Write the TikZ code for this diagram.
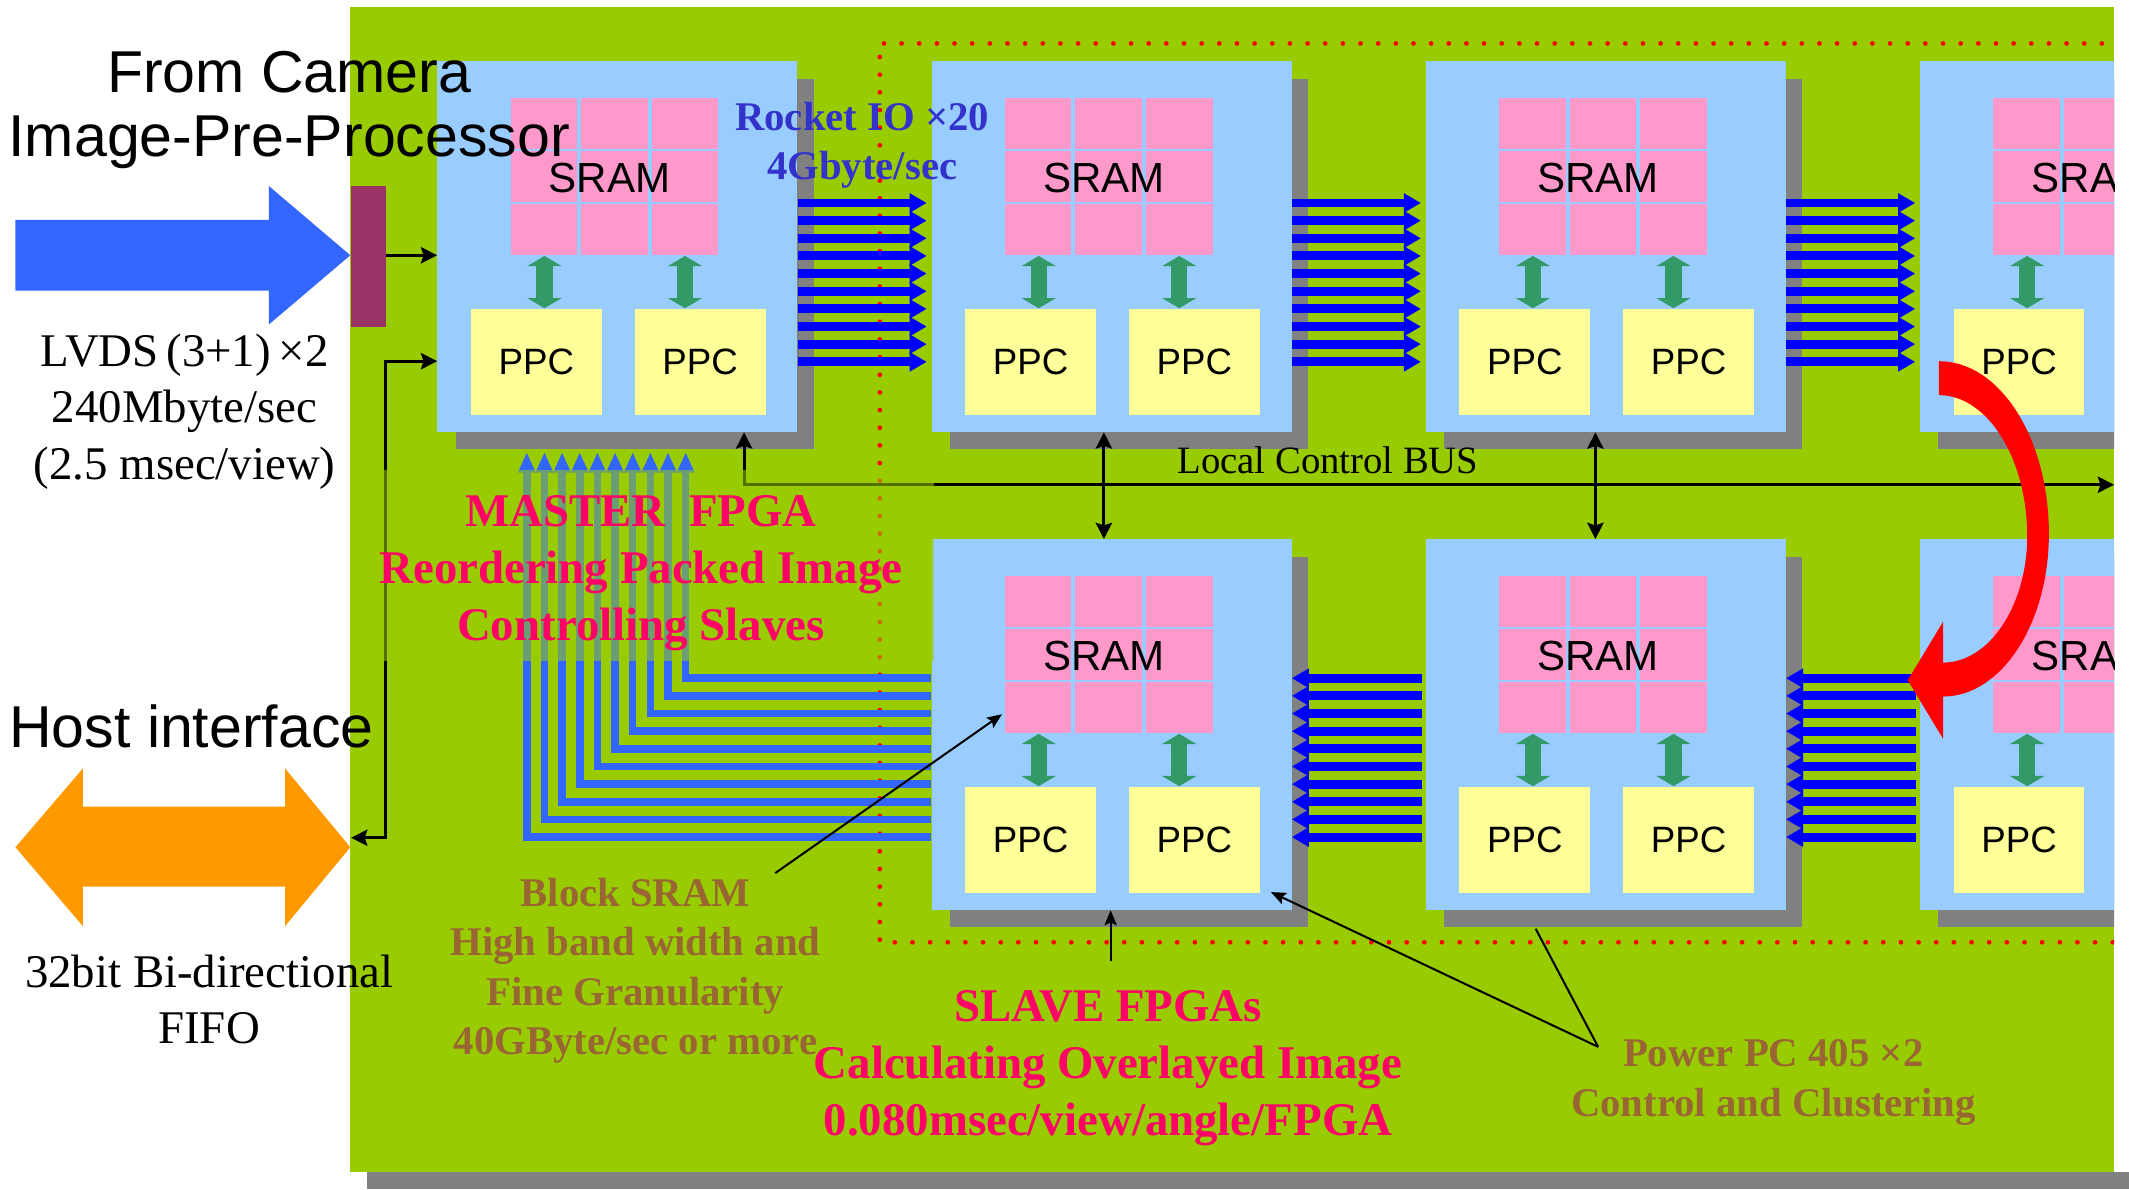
\documentclass[tikz,border=0pt]{standalone}
\usepackage{fontspec}
\setmainfont{Liberation Serif}
\setsansfont{Liberation Sans}
\usetikzlibrary{arrows.meta,calc}

\definecolor{panelgreen}{RGB}{153,204,0}
\definecolor{fpgablue}{RGB}{153,204,255}
\definecolor{shadowgray}{RGB}{128,128,128}
\definecolor{srampink}{RGB}{255,153,204}
\definecolor{ppcyellow}{RGB}{255,255,153}
\definecolor{portgreen}{RGB}{51,153,102}
\definecolor{rocketblue}{RGB}{0,0,255}
\definecolor{feedblue}{RGB}{51,102,255}
\definecolor{hotpink}{RGB}{255,0,102}
\definecolor{notebrown}{RGB}{153,102,51}
\definecolor{iotextblue}{RGB}{51,51,204}
\definecolor{hostorange}{RGB}{255,153,0}
\definecolor{portmaroon}{RGB}{153,51,102}

% one FPGA: name, left, top
\newcommand{\fpgablock}[3]{%
  \fill[shadowgray] (#2+13.5,#3+13) rectangle ++(264,273);
  \node[fpga] (#1) at (#2,#3) {};
  \foreach \c in {0,1,2}
    \foreach \r in {0,1,2}
      \fill[srampink] (#2+54+52*\c,#3+27+39*\r) rectangle ++(49,37.5);
  \node[sramlabel] (#1-sram) at (#2+127,#3+86) {SRAM};
  \node[ppc] (#1-ppcA) at (#2+24.7,#3+182.6) {PPC};
  \node[ppc] (#1-ppcB) at (#2+145.3,#3+182.6) {PPC};
  \draw[duplex] (#2+79,#3+143.5) -- (#2+79,#3+182);
  \draw[duplex] (#2+182.5,#3+143.5) -- (#2+182.5,#3+182);
}

\begin{document}
\begin{tikzpicture}[x=1pt, y=-1pt, >={Stealth[length=12pt,width=12pt,inset=2pt]},
    fpga/.style={rectangle, fill=fpgablue, anchor=north west, inner sep=0pt, minimum width=265pt, minimum height=273pt},
    ppc/.style={rectangle, fill=ppcyellow, anchor=north west, inner sep=0pt, minimum width=96.3pt, minimum height=78pt, font=\sffamily\fontsize{27}{32}\selectfont},
    sramlabel/.style={inner sep=0pt, font=\sffamily\fontsize{31}{36}\selectfont},
    duplex/.style={draw=portgreen, line width=12pt, {Triangle[width=25pt,length=7.5pt]}-{Triangle[width=25pt,length=7.5pt]}},
    rocket/.style={draw=rocketblue, line width=6.6pt, -{Triangle[length=12.5pt,width=13.5pt]}},
    feed/.style={draw=feedblue, line width=5.5pt, line join=miter, -{Triangle[length=15pt,width=12pt]}},
    link/.style={draw=black, line width=2.2pt},
    lead/.style={draw=black, line width=1.5pt, >={Stealth[length=11pt,width=9pt,inset=2pt]}},
    camtext/.style={align=center, inner sep=0pt, font=\sffamily\fontsize{43.5}{47}\selectfont},
    ratetext/.style={align=center, inner sep=0pt, font=\fontsize{34.5}{41.5}\selectfont},
    hottext/.style={align=center, inner sep=0pt, text=hotpink, font=\bfseries\fontsize{34.5}{42}\selectfont},
    notetext/.style={align=center, inner sep=0pt, text=notebrown, font=\bfseries\fontsize{30}{36.5}\selectfont},
    iotext/.style={align=center, inner sep=0pt, text=iotextblue, font=\bfseries\fontsize{30}{36}\selectfont}]

\useasboundingbox (0,0) rectangle (1568,876);
\fill[white] (0,0) rectangle (1568,876);
\fill[shadowgray] (270,863.5) rectangle (1568,876);

\begin{scope}
\clip (0,0) rectangle (1557,876);
\fill[panelgreen] (258,5.4) rectangle (1557,863.5);

% slave area
\draw[red, line width=3.5pt, line cap=round, dash pattern=on 0pt off 13pt] (1600,32) -- (648,32) -- (648,694) -- (1600,694);

\fpgablock{m}{322}{45}
\fpgablock{t1}{686}{45}
\fpgablock{t2}{1050}{45}
\fpgablock{t3}{1414}{45}
\fpgablock{b1}{686}{397}
\fpgablock{b2}{1050}{397}
\fpgablock{b3}{1414}{397}

% Rocket IO links
\foreach \i in {0,...,9} {
  \pgfmathsetmacro{\yt}{149.5+13*\i}
  \pgfmathsetmacro{\yb}{499.5+13*\i}
  \draw[rocket, shorten >=3.5pt] (m.east |- 0,\yt) -- (t1.west |- 0,\yt);
  \draw[rocket, shorten >=3.5pt] (t1.east |- 0,\yt) -- (t2.west |- 0,\yt);
  \draw[rocket, shorten >=3.5pt] (t2.east |- 0,\yt) -- (t3.west |- 0,\yt);
  \draw[rocket, shorten <=3pt] (b2.west |- 0,\yb) -- (b1.east |- 0,\yb);
  \draw[rocket, shorten <=3pt] (b3.west |- 0,\yb) -- (b2.east |- 0,\yb);
}

% return path to the master
\foreach \i in {0,...,9} {
  \pgfmathsetmacro{\xf}{388+13*\i}
  \pgfmathsetmacro{\yf}{616.5-13*\i}
  \draw[feed] (b1.west |- 0,\yf) -- (\xf,\yf) -- (\xf,333);
}

% control bus
\coordinate (hostio) at (258.6,617);
\draw[link, <->] (m.south -| 548,0) -- (548,357) -- (1557,357);
\draw[link, <->] (t1.south -| 813,0) -- (b1.north -| 813,0);
\draw[link, <->] (t2.south -| 1175,0) -- (b2.north -| 1175,0);
\draw[link, <->] (hostio) -- (284,617) -- (284,266) -- (m.west |- 0,266);

\fill[panelgreen, opacity=0.55] (283,346) rectangle (688,487);

% camera input and host port
\fill[feedblue] (11.4,162) -- (198,162) -- (198,137) -- (258,188) -- (198,239) -- (198,214) -- (11.4,214) -- cycle;
\node[fill=portmaroon, anchor=north west, inner sep=0pt, minimum width=26pt, minimum height=104pt] (bar) at (258,136.5) {};
\draw[link, ->] (bar.east |- 0,188) -- (m.west |- 0,188);
\fill[hostorange] (11.4,624) -- (61,566) -- (61,594) -- (210,594) -- (210,566) -- (258,624) -- (210,682) -- (210,653) -- (61,653) -- (61,682) -- cycle;

% hand-over to the next row
\fill[red] (1428,266) .. controls (1473,266) and (1509,323) .. (1509,393)
  .. controls (1509,459) and (1474,513) .. (1431,513) -- (1431,544) -- (1405,501) -- (1431,458) -- (1431,488)
  .. controls (1465,488) and (1493,446) .. (1493,395)
  .. controls (1493,338) and (1464,291) .. (1428,291) -- cycle;

\node[camtext] (camera) at (213,81) {From Camera\\Image-Pre-Processor};
\node[ratetext] (lvds) at (136,303) {LVDS\,(3+1)\,×2\\240Mbyte/sec\\(2.5 msec/view)};
\node[camtext] (host) at (141,535) {Host interface};
\node[ratetext] (fifo) at (154,736) {32bit Bi-directional\\FIFO};
\node[iotext] (rocketio) at (635,107) {Rocket IO ×20\\4Gbyte/sec};
\node[inner sep=0pt, font=\fontsize{28.5}{34}\selectfont] (buslabel) at (978,339) {Local Control BUS};
\node[hottext] (masterlabel) at (472,422) {MASTER~~FPGA\\Reordering Packed Image\\Controlling Slaves};
\node[notetext] (bsramnote) at (468,715) {Block SRAM\\High band width and\\Fine Granularity\\40GByte/sec or more};
\node[hottext] (slavelabel) at (816,787) {SLAVE FPGAs\\Calculating Overlayed Image\\0.080msec/view/angle/FPGA};
\node[notetext] (ppcnote) at (1306,797) {Power PC 405 ×2\\Control and Clustering};

% pointers
\coordinate (bsramtail) at (571,643);
\coordinate (ppctail) at (1177,771);
\draw[lead, ->] (bsramtail) -- (738,526);
\draw[lead, ->] (ppctail) -- (936,657);
\draw[lead] (ppctail) -- (1131,684);
\draw[lead, ->] (818,708) -- (b1.south -| 818,0);
\end{scope}

\end{tikzpicture}
\end{document}
